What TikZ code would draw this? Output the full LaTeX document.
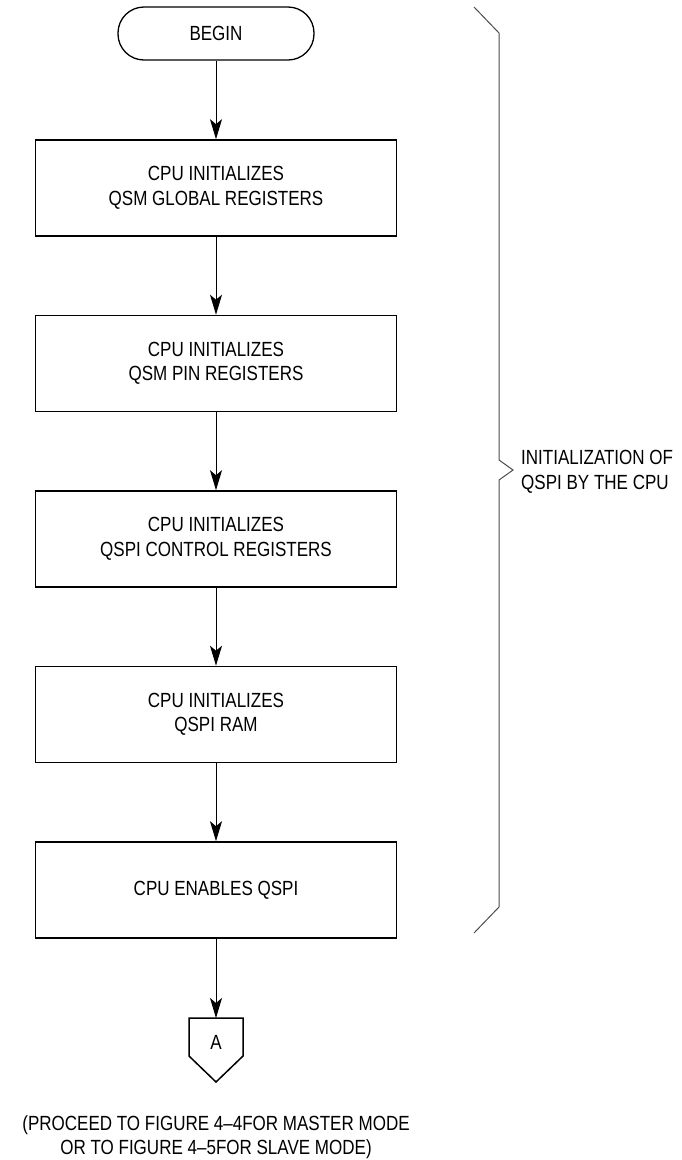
\documentclass[tikz,border=0pt]{standalone}
\usepackage{fontspec}
\setmainfont{Liberation Sans}[FakeStretch=0.83]
\usetikzlibrary{arrows.meta}
\begin{document}
\begin{tikzpicture}[x=1pt,y=-1pt,
  every node/.style={font=\fontsize{20.5}{24.5}\selectfont, align=center, inner sep=0pt},
  procbox/.style={draw, line width=1.6pt, minimum width=361pt, minimum height=96pt},
  termbox/.style={draw, line width=1.3pt, rounded corners=26pt, minimum width=196pt, minimum height=53pt},
  flow/.style={line width=1pt, -{Stealth[length=20pt,width=12pt,inset=5pt]}},
  bracestyle/.style={line width=1pt, black!70}
]
\useasboundingbox (0,0) rectangle (682,1160);
\node[termbox] (begin) at (216,33.5) {BEGIN};
\node[procbox] (b1) at (216,188) {CPU INITIALIZES\\QSM GLOBAL REGISTERS};
\node[procbox] (b2) at (216,363.5) {CPU INITIALIZES\\QSM PIN REGISTERS};
\node[procbox] (b3) at (216,539) {CPU INITIALIZES\\QSPI CONTROL REGISTERS};
\node[procbox] (b4) at (216,714.5) {CPU INITIALIZES\\QSPI RAM};
\node[procbox] (b5) at (216,890) {CPU ENABLES QSPI};
\coordinate (Atop) at (216,1018);
\draw[line width=1.5pt, line join=miter] (189,1018) -- (243,1018) -- (243,1056) -- (216,1082) -- (189,1056) -- cycle;
\node (alabel) at (216,1042) {A};
\draw[flow] (begin) -- (b1);
\draw[flow] (b1) -- (b2);
\draw[flow] (b2) -- (b3);
\draw[flow] (b3) -- (b4);
\draw[flow] (b4) -- (b5);
\draw[flow] (b5) -- (Atop);
\node (note) at (216,1137) {(PROCEED TO FIGURE 4–4FOR MASTER MODE\\OR TO FIGURE 4–5FOR SLAVE MODE)};
\draw[bracestyle] (474,7) -- (499,33) -- (499,460) -- (513,470) -- (499,480) -- (499,907) -- (474,933);
\node[anchor=west, align=left] (blabel) at (521,472) {INITIALIZATION OF\\QSPI BY THE CPU};
\end{tikzpicture}
\end{document}
